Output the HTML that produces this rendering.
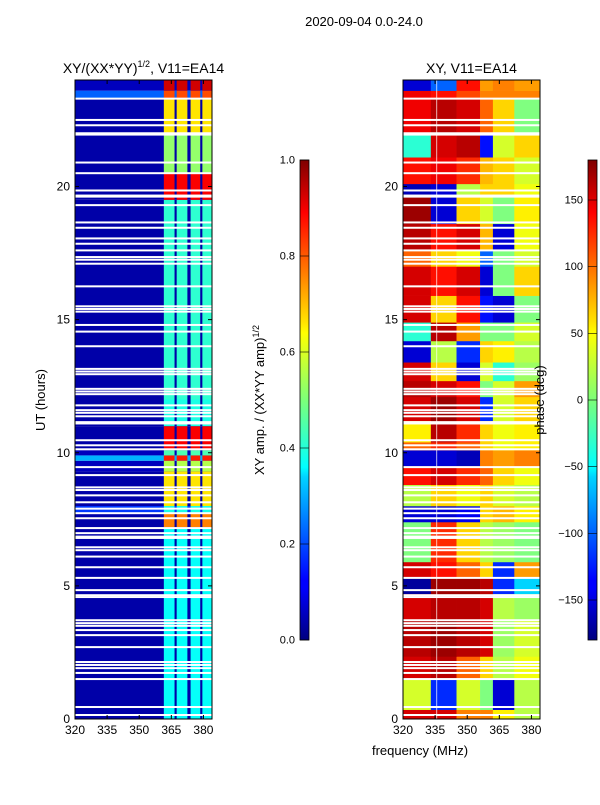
<!DOCTYPE html>
<html><head><meta charset="utf-8"><style>
body{margin:0;background:#fff;font-family:"Liberation Sans",sans-serif}
svg text{font-family:"Liberation Sans",sans-serif}
</style></head><body>
<svg id="fig" width="600" height="800" viewBox="0 0 600 800" xmlns="http://www.w3.org/2000/svg">
<defs>
<linearGradient id="jet" x1="0" y1="1" x2="0" y2="0">
<stop offset="0" stop-color="#00007f"/><stop offset="0.11" stop-color="#0000ff"/><stop offset="0.125" stop-color="#0000ff"/><stop offset="0.34" stop-color="#00d4ff"/><stop offset="0.36" stop-color="#0ff" /><stop offset="0.5" stop-color="#7cff79"/><stop offset="0.64" stop-color="#ff0"/><stop offset="0.66" stop-color="#ffe600"/><stop offset="0.89" stop-color="#ff0000"/><stop offset="1" stop-color="#7f0000"/>
</linearGradient>
</defs>
<text x="364" y="26" font-size="13" text-anchor="middle">2020-09-04 0.0-24.0</text>
<g id="left"></g>
<g id="right"></g>
<g id="axes"></g>
</svg>
<script>
// shared missing-data rows (hours)
const gapHours=[23.3,22.5,22.3,22.0,21.95,20.9,20.5,19.85,19.66,19.62,19.3,18.65,18.45,18.05,17.85,17.6,17.35,17.25,17.1,16.25,15.5,15.4,15.3,14.8,14.55,14.0,13.15,13.05,12.95,12.4,12.3,12.2,11.78,11.6,11.5,11.37,11.15,11.1,10.47,10.28,10.13,9.46,9.16,8.7,8.6,8.4,8.14,7.9,7.73,7.54,7.17,6.98,6.85,6.8,6.45,6.34,6.1,5.7,5.3,4.84,4.65,4.58,3.71,3.6,3.5,3.34,3.15,2.7,2.14,2.03,1.91,1.73,1.5,0.45,0.15];
// amplitude panel: row bands
const ampRowEdges=[0,7.2,7.7,8.0,9.3,9.7,9.9,10.1,11.0,12.0,19.5,20.5,22.0,23.3,23.6,24];
const ampBand=[0.38,0.75,0.40,0.65,0.55,0.85,0.45,0.88,0.40,0.42,0.88,0.52,0.65,0.80,0.92];
const ampBase=[0.04,0.04,0.18,0.04,0.06,0.30,0.06,0.04,0.04,0.04,0.04,0.04,0.04,0.22,0.06];
const bandCols=[[361.5,366.5],[367.5,372.5],[374,378.5],[379.5,384]];
// phase panel
const phFreqEdges=[320,333,345,356,362,372,384];
const phRowEdges=[0,0.35,1.5,2.35,3.7,4.7,5.3,5.9,7.4,8.0,8.8,9.5,10.1,10.4,11.2,12.1,12.7,13.4,14.2,14.9,15.9,17.0,17.6,18.6,19.7,20.1,21.1,22.0,23.3,23.6,24];
const phVals=[
[150,150,90,90,50,20],[30,-120,30,0,-150,20],[150,160,100,60,20,40],[160,170,160,150,10,30],
[150,160,160,150,20,10],[-170,170,170,160,-120,-60],[150,130,100,60,-120,80],[0,120,60,20,10,0],
[-150,-150,-140,60,70,50],[20,60,40,60,30,20],[130,150,120,100,60,40],[-150,-150,-160,90,80,90],
[100,120,100,60,40,50],[50,160,120,60,40,50],[150,170,150,-120,30,60],[160,150,130,0,30,80],
[150,60,-150,30,-30,10],[-150,20,-120,60,50,20],[-30,160,80,0,0,30],[150,60,130,-130,-150,0],
[150,130,150,-150,0,60],[100,60,40,-100,0,30],[160,130,150,70,-150,40],[170,-150,60,30,0,50],
[-160,-150,20,60,60,40],[130,140,120,70,60,30],[-30,150,160,-130,30,60],[140,160,150,100,60,0],
[140,130,110,90,90,90],[-150,-100,130,80,90,80]];
const xTicks=[320,335,350,365,380];
const yTicks=[0,5,10,15,20];
const cb1Ticks=[0.0,0.2,0.4,0.6,0.8,1.0];
const cb2Ticks=[-150,-100,-50,0,50,100,150];

const NS="http://www.w3.org/2000/svg";
function jet(v){v=Math.max(0,Math.min(1,v));
 const r=Math.max(0,Math.min(1,1.5-Math.abs(4*v-3))),g=Math.max(0,Math.min(1,1.5-Math.abs(4*v-2))),b=Math.max(0,Math.min(1,1.5-Math.abs(4*v-1)));
 return `rgb(${Math.round(r*255)},${Math.round(g*255)},${Math.round(b*255)})`;}
function mk(tag,at,parent){const e=document.createElementNS(NS,tag);for(const k in at)e.setAttribute(k,at[k]);parent.appendChild(e);return e;}
const T=80,B=719;
function yS(h){return B-(h/24)*(B-T);}
function xL(f){return 75+(f-320)/(384-320)*137;}
function xR(f){return 403+(f-320)/(384-320)*137;}
const L=document.getElementById('left'),R=document.getElementById('right'),A=document.getElementById('axes');
// amplitude
for(let i=0;i<ampBand.length;i++){
 const y0=yS(ampRowEdges[i+1]),y1=yS(ampRowEdges[i]);
 let r=mk('rect',{x:75,y:y0,width:137,height:y1-y0,fill:jet(ampBase[i])},L);
 
 
 for(const c of bandCols){
  r=mk('rect',{x:xL(c[0]),y:y0,width:xL(c[1])-xL(c[0]),height:y1-y0,fill:jet(ampBand[i])},L);
  
  
 }
}
// phase
for(let i=0;i<phVals.length;i++){
 const y0=yS(phRowEdges[i+1]),y1=yS(phRowEdges[i]);
 for(let j=0;j<phVals[i].length;j++){
  const r=mk('rect',{x:xR(phFreqEdges[j]),y:y0,width:xR(phFreqEdges[j+1])-xR(phFreqEdges[j])+0.3,height:y1-y0+0.3,fill:jet((phVals[i][j]+180)/360)},R);
  
  
 }
}
// gaps
for(const h of gapHours){
 for(const x0 of [75,403]){
  const r=mk('rect',{x:x0,y:yS(h)-1,width:137,height:2,fill:'#fff'},x0==75?L:R);
  
  
 }
}
// vertical white line in phase panel
mk('rect',{x:xR(335.5),y:T,width:1,height:B-T,fill:'#fff',opacity:0.7},R);
// axes frames & ticks
function frame(x0,xs,title,name){
 let f=mk('rect',{x:x0,y:T,width:137,height:B-T,fill:'none',stroke:'#000','stroke-width':1},A);
 
 
 let t=mk('text',{x:x0+68.5,y:73,'font-size':14,'text-anchor':'middle'},A);t.innerHTML=title;
 
 
 for(const v of xTicks){const x=xs(v);
  mk('line',{x1:x,x2:x,y1:B,y2:B-4,stroke:'#000'},A);mk('line',{x1:x,x2:x,y1:T,y2:T+4,stroke:'#000'},A);
  const l=mk('text',{x:x,y:B+15,'font-size':12,'text-anchor':'middle'},A);l.textContent=v;
  
  }
 for(const v of yTicks){const y=yS(v);
  mk('line',{x1:x0,x2:x0+4,y1:y,y2:y,stroke:'#000'},A);mk('line',{x1:x0+137,x2:x0+133,y1:y,y2:y,stroke:'#000'},A);
  const l=mk('text',{x:x0-5,y:y+4,'font-size':12,'text-anchor':'end'},A);l.textContent=v;
  
  }
}
frame(75,xL,'XY/(XX*YY)<tspan font-size="9" dy="-6">1/2</tspan><tspan dy="6">, V11=EA14</tspan>','amp-panel');
frame(403,xR,'XY, V11=EA14','phase-panel');
// colorbars
function cbar(x0,ticks,vmin,vmax,fmt,name){
 const top=160,bot=640;
 let r=mk('rect',{x:x0,y:top,width:9,height:bot-top,fill:'url(#jet)',stroke:'#000','stroke-width':0.8},A);
 
 
 for(const v of ticks){const y=bot-(v-vmin)/(vmax-vmin)*(bot-top);
  mk('line',{x1:x0,x2:x0+9,y1:y,y2:y,stroke:'#000','stroke-width':0.6},A);
  const l=mk('text',{x:x0-5,y:y+3.5,'font-size':11,'text-anchor':'end'},A);l.textContent=fmt(v);
  
  }
}
cbar(300,cb1Ticks,0,1,v=>v.toFixed(1),'amp-colorbar');
cbar(588,cb2Ticks,-180,180,v=>String(v).replace('-','\u2212'),'phase-colorbar');
function lab(txt,x,y,rot,name){const t=mk('text',{x:x,y:y,'font-size':13,'text-anchor':'middle',transform:rot?`rotate(-90 ${x} ${y})`:''},A);t.innerHTML=txt;
 
 }
lab('frequency (MHz)',420,755,false,'x-axis-title');
lab('UT (hours)',45,400,true,'y-axis-title');
lab('XY amp. / (XX*YY amp)<tspan font-size="9" dy="-5">1/2</tspan>',264,400,true,'amp-colorbar-title');
lab('phase (deg)',544,400,true,'phase-colorbar-title');
</script>
</body></html>
